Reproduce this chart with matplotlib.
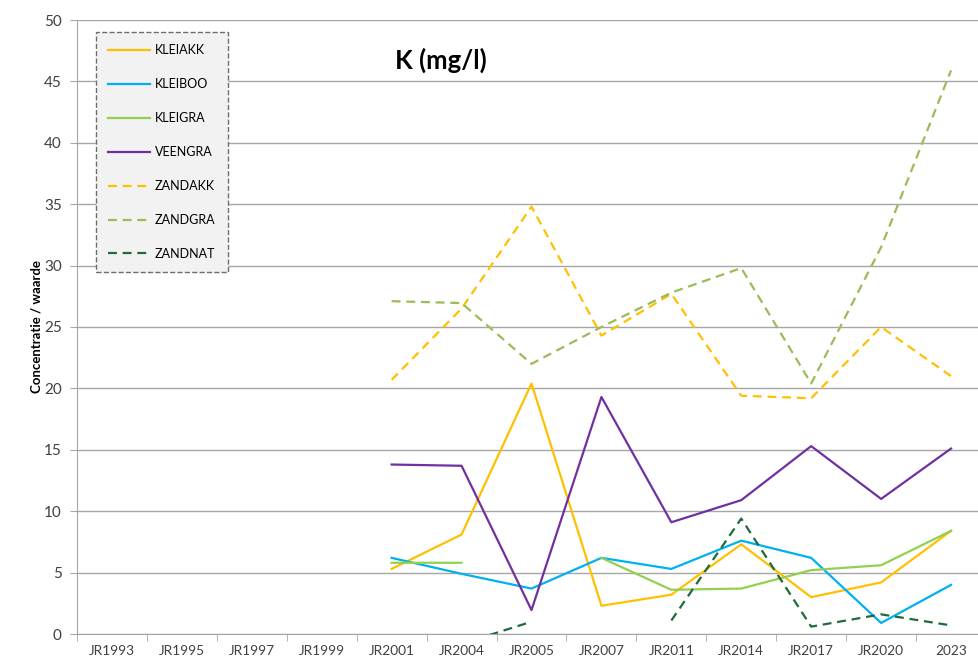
import numpy as np
import matplotlib
matplotlib.use("Agg")
import matplotlib.pyplot as plt

plt.rcParams['font.family'] = ['Lato', 'DejaVu Sans']

categories = ["JR1993", "JR1995", "JR1997", "JR1999", "JR2001", "JR2004", "JR2005",
              "JR2007", "JR2011", "JR2014", "JR2017", "JR2020", "2023"]
nan = np.nan
kleiakk = [nan, nan, nan, nan, 5.3, 8.1, 20.4, 2.3, 3.2, 7.3, 3.0, 4.2, 8.4]
kleiboo = [nan, nan, nan, nan, 6.2, 4.9, 3.7, 6.2, 5.3, 7.6, 6.2, 0.9, 4.0]
kleigra = [nan, nan, nan, nan, 5.8, 5.8, nan, 6.2, 3.6, 3.7, 5.2, 5.6, 8.4]
veengra = [nan, nan, nan, nan, 13.8, 13.7, 1.95, 19.3, 9.1, 10.9, 15.3, 11.0, 15.1]
zandakk = [nan, nan, nan, nan, 20.7, 26.5, 34.8, 24.3, 27.7, 19.4, 19.2, 25.0, 21.0]
zandgra = [nan, nan, nan, nan, 27.1, 26.95, 22.0, 25.0, 27.8, 29.8, 20.4, 31.5, 45.9]
zandnat = [nan, nan, nan, nan, nan, -0.8, 1.0, nan, 1.1, 9.4, 0.6, 1.6, 0.7]

series = [
    ("KLEIAKK", kleiakk, "#FFC000", "-"),
    ("KLEIBOO", kleiboo, "#00B0F0", "-"),
    ("KLEIGRA", kleigra, "#92D050", "-"),
    ("VEENGRA", veengra, "#7030A0", "-"),
    ("ZANDAKK", zandakk, "#FFC000", "--"),
    ("ZANDGRA", zandgra, "#9BBB59", "--"),
    ("ZANDNAT", zandnat, "#1E6B3C", "--"),
]

fig = plt.figure(figsize=(9.79, 6.63), dpi=100)
ax = fig.add_axes([77/979, 1 - 634/663, 909/979, 614/663])
x = np.arange(len(categories))
for name, vals, color, ls in series:
    line, = ax.plot(x, vals, color=color, lw=1.6, label=name, linestyle=ls, clip_on=True)
    if ls == "--":
        line.set_dashes((4, 2.6))

ax.set_xlim(-0.5, len(categories) - 0.5)
ax.set_ylim(0, 50)
ax.set_yticks(np.arange(0, 51, 5))
ax.set_xticks(x)
ax.set_xticklabels(categories, fontsize=9.8, color="#404040")
ax.tick_params(axis='x', length=0, pad=8)
ax.set_xticks(np.arange(-0.5, len(categories), 1), minor=True)
ax.tick_params(axis='x', which='minor', length=5, color="#A6A6A6", direction='out')
ax.tick_params(axis='y', length=5, color="#A6A6A6", labelsize=11, labelcolor="#404040", pad=6)
ax.grid(axis='y', color="#A6A6A6", lw=1)
ax.set_axisbelow(True)
for s in ["top", "right"]:
    ax.spines[s].set_visible(False)
for s in ["left", "bottom"]:
    ax.spines[s].set_color("#A6A6A6")

ax.set_ylabel("Concentratie / waarde", fontsize=9.5, fontweight='bold', labelpad=1)
ax.text(441/979, 1 - 60/663, "K (mg/l)", transform=fig.transFigure, fontsize=18.5,
        fontweight='bold', ha='center', va='center')

leg = ax.legend(loc='upper left', bbox_to_anchor=((96 - 77)/909, (634 - 32)/614),
                fontsize=9, frameon=True, fancybox=False, handlelength=3.3,
                labelspacing=1.75, borderpad=1.0, handletextpad=0.4, borderaxespad=0)
fr = leg.get_frame()
fr.set_facecolor("#F2F2F2")
fr.set_edgecolor("#6E6E6E")
fr.set_linestyle("--")
fr.set_linewidth(1)
fr.set_alpha(1)

fig.savefig("out.png", dpi=100)
